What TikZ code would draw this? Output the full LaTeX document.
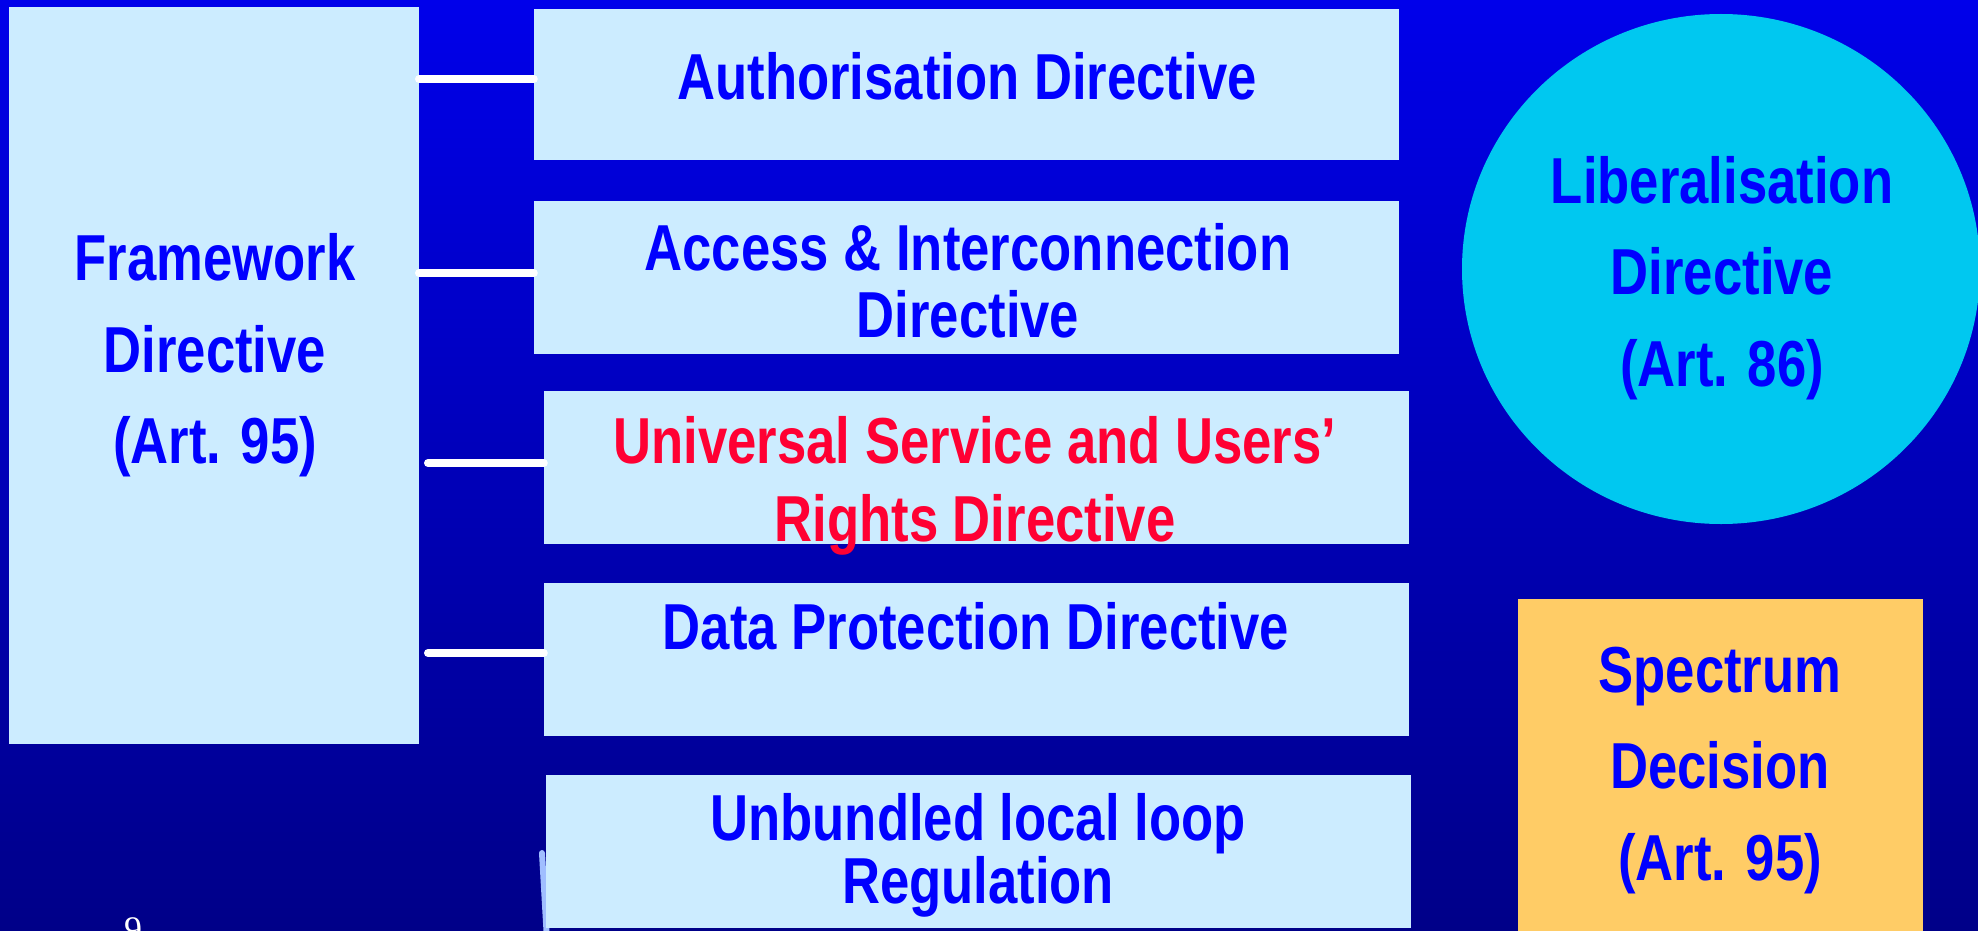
\documentclass[tikz,border=0pt]{standalone}
\usepackage{fontspec}
\usetikzlibrary{shapes.geometric}
\newfontfamily\dirfont{Liberation Sans}[FakeStretch=0.81]
\newfontfamily\numfont{Liberation Serif}
\definecolor{bgtop}{RGB}{0,0,234}
\definecolor{bgbottom}{RGB}{0,0,136}
\definecolor{boxblue}{RGB}{204,236,255}
\definecolor{txtblue}{RGB}{0,0,255}
\definecolor{txtred}{RGB}{255,0,51}
\definecolor{libcyan}{RGB}{0,200,240}
\definecolor{specgold}{RGB}{255,204,102}
\definecolor{paleline}{RGB}{160,190,255}
\tikzset{
  dirbox/.style={rectangle, fill=boxblue, draw=none, inner sep=0pt},
  conn/.style={draw=white, line width=8pt, line cap=round},
  lbl/.style={anchor=base, inner sep=0pt, text=txtblue,
    font=\dirfont\bfseries\fontsize{65}{70}\selectfont},
}
\begin{document}
\begin{tikzpicture}[x=1pt, y=-1pt]
  \useasboundingbox (0,0) rectangle (1978,931);
  \begin{scope}
    \clip (0,0) rectangle (1978,931);
    % background
    \shade[top color=bgtop, bottom color=bgbottom] (0,0) rectangle (1978,931);

    % left framework column
    \node[dirbox, minimum width=410pt, minimum height=737pt] (frame) at (214,375.5) {};

    % connector anchor points on the framework side
    \coordinate (c1) at (419,79);
    \coordinate (c2) at (419,273);
    \coordinate (c3) at (428,463);
    \coordinate (c4) at (428,653);

    % pale stroke partly hidden by the regulation box
    \coordinate (p1) at (542,853);
    \coordinate (p2) at (547,940);
    \draw[draw=paleline, line width=6pt, line cap=round] (p1) -- (p2);

    % directive boxes
    \node[dirbox, minimum width=865pt, minimum height=151pt] (auth)   at (966.5,84.5)  {};
    \node[dirbox, minimum width=865pt, minimum height=153pt] (access) at (966.5,277.5) {};
    \node[dirbox, minimum width=865pt, minimum height=153pt] (univ)   at (976.5,467.5) {};
    \node[dirbox, minimum width=865pt, minimum height=153pt] (data)   at (976.5,659.5) {};
    \node[dirbox, minimum width=865pt, minimum height=153pt] (unbund) at (978.5,851.5) {};

    % connectors
    \draw[conn] (c1) -- (c1 -| auth.west);
    \draw[conn] (c2) -- (c2 -| access.west);
    \draw[conn] (c3) -- (c3 -| univ.west);
    \draw[conn] (c4) -- (c4 -| data.west);

    % right-hand items
    \node[ellipse, fill=libcyan, draw=none, inner sep=0pt,
          minimum width=518pt, minimum height=510pt] (lib) at (1721,269) {};
    \node[rectangle, fill=specgold, draw=none, inner sep=0pt,
          minimum width=405pt, minimum height=341pt] (spec) at (1720.5,769.5) {};

    % texts
    \node[lbl] (frame-1) at (215,280) {Framework};
    \node[lbl] (frame-2) at (215,372) {Directive};
    \node[lbl] (frame-3) at (215,463) {(Art. 95)};

    \node[lbl] (auth-1) at (967,100) {Authorisation Directive};

    \node[lbl] (access-1) at (968,270) {Access \& Interconnection};
    \node[lbl] (access-2) at (968,337) {Directive};

    \node[lbl, text=txtred] (univ-1) at (975,463) {Universal Service and Users’};
    \node[lbl, text=txtred] (univ-2) at (975,541) {Rights Directive};

    \node[lbl] (data-1) at (976,649) {Data Protection Directive};

    \node[lbl] (unbund-1) at (978,840) {Unbundled local loop};
    \node[lbl] (unbund-2) at (978,903) {Regulation};

    \node[lbl] (lib-1) at (1722,203) {Liberalisation};
    \node[lbl] (lib-2) at (1722,294) {Directive};
    \node[lbl] (lib-3) at (1722,386) {(Art. 86)};

    \node[lbl] (spec-1) at (1720,692) {Spectrum};
    \node[lbl] (spec-2) at (1720,788) {Decision};
    \node[lbl] (spec-3) at (1720,880) {(Art. 95)};

    % page number, running off the lower edge
    \node[anchor=base, inner sep=0pt, text=white, font=\numfont\fontsize{36}{40}\selectfont] (pagenum) at (133,941) {9};
  \end{scope}
\end{tikzpicture}
\end{document}
